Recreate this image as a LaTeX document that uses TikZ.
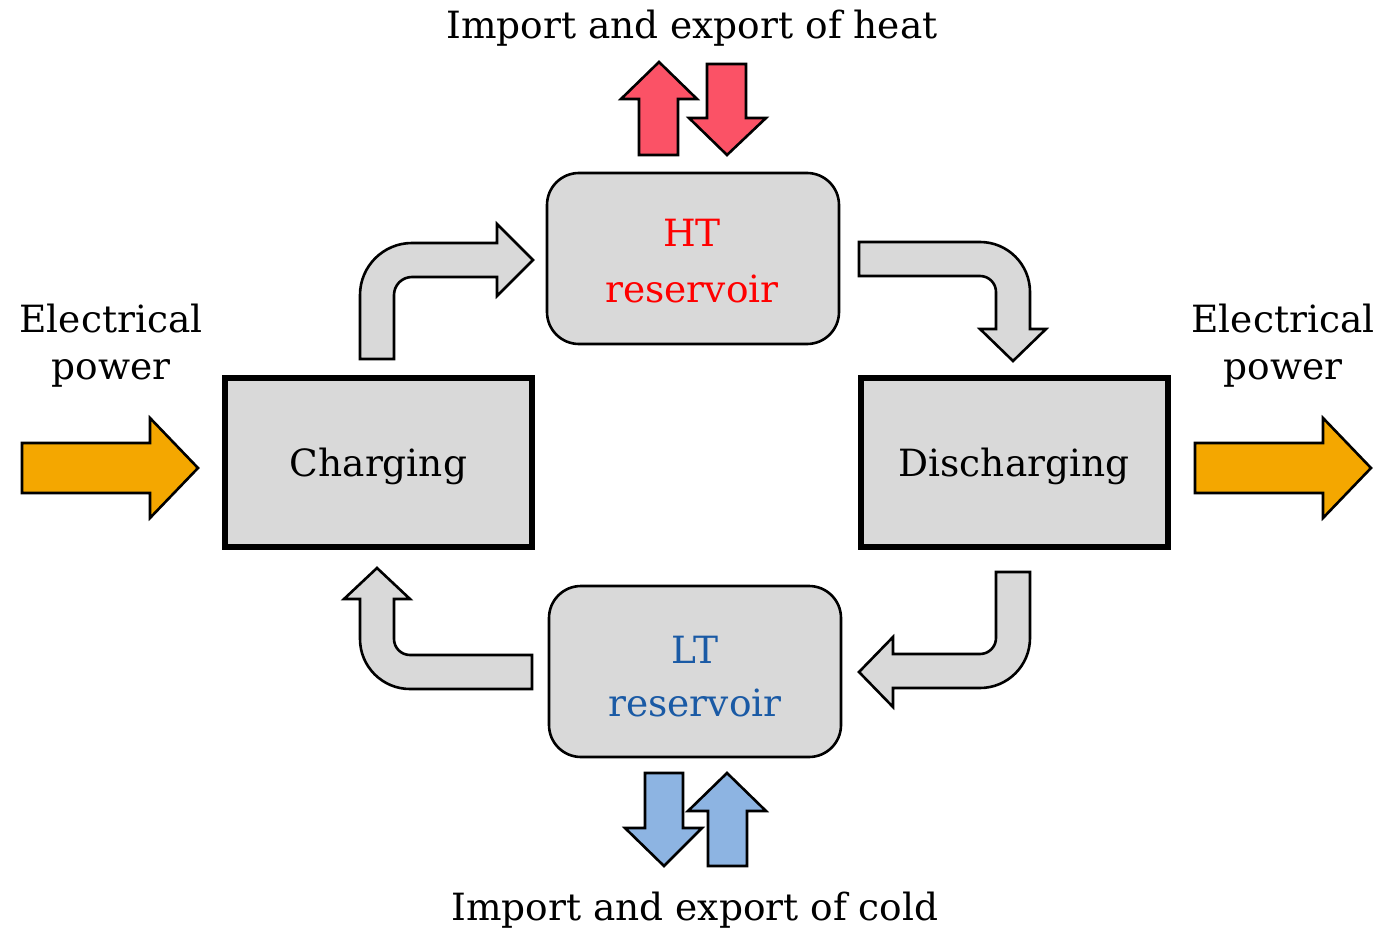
\documentclass[tikz,border=0pt]{standalone}
\usepackage{fontspec}
\setmainfont{DejaVu Serif}
\definecolor{boxgray}{HTML}{D9D9D9}
\definecolor{powerorange}{HTML}{F4A700}
\definecolor{heatred}{HTML}{FB5266}
\definecolor{coldblue}{HTML}{8DB4E2}
\definecolor{ltblue}{HTML}{1A5AA5}
\definecolor{htred}{HTML}{FF0000}
\begin{document}
\begin{tikzpicture}[x=1pt,y=1pt,
  blockarrow/.style={draw=black,line width=2.6pt,line join=miter},
  flowarrow/.style={blockarrow,fill=boxgray},
  mainbox/.style={draw=black,fill=boxgray,line width=6pt,minimum width=307pt,minimum height=169pt,inner sep=0pt,font=\fontsize{37.5}{44}\selectfont},
  reservoir/.style={draw=black,fill=boxgray,line width=2.6pt,rounded corners=32pt,minimum width=292pt,minimum height=171pt,inner sep=0pt},
  boxtext/.style={inner sep=0pt,anchor=base,font=\fontsize{37.5}{44}\selectfont},
  label/.style={inner sep=0pt,align=center,font=\fontsize{37.5}{47}\selectfont}]
\useasboundingbox (0,0) rectangle (1397,-928);

% boxes
\node[mainbox] (charging) at (378.5,-462.5) {\raisebox{-13.5pt}[0pt][0pt]{Charging}};
\node[mainbox] (discharging) at (1014,-462.5) {\raisebox{-13.5pt}[0pt][0pt]{Discharging}};
\node[reservoir] (ht) at (693,-258.5) {};
\node[reservoir] (lt) at (695,-671.5) {};
\node[boxtext,text=htred] (htname) at (692,-247) {HT};
\node[boxtext,text=htred] (htres) at (692,-302) {reservoir};
\node[boxtext,text=ltblue] (ltname) at (695,-663) {LT};
\node[boxtext,text=ltblue] (ltres) at (695,-716) {reservoir};

% labels
\node[label,anchor=base] (heatlabel) at (692,-39) {Import and export of heat};
\node[label,anchor=base] (coldlabel) at (695,-920) {Import and export of cold};
\node[label] (elecin) at (111,-346) {Electrical\\power};
\node[label] (elecout) at (1283,-346) {Electrical\\power};

% electrical power arrows
\draw[blockarrow,fill=powerorange] (22,-443) -- (150,-443) -- (150,-418) -- (198,-468) -- (150,-518) -- (150,-493) -- (22,-493) -- cycle;
\draw[blockarrow,fill=powerorange] (1195,-443) -- (1323,-443) -- (1323,-418) -- (1371,-468) -- (1323,-518) -- (1323,-493) -- (1195,-493) -- cycle;

% heat arrows
\draw[blockarrow,fill=heatred] (639,-155) -- (639,-99) -- (621,-99) -- (659,-62) -- (697,-99) -- (678,-99) -- (678,-155) -- cycle;
\draw[blockarrow,fill=heatred] (707,-64) -- (746,-64) -- (746,-118) -- (766,-118) -- (727,-155) -- (689,-118) -- (707,-118) -- cycle;

% cold arrows
\draw[blockarrow,fill=coldblue] (645,-773) -- (683,-773) -- (683,-828) -- (702,-828) -- (664,-866) -- (625,-828) -- (645,-828) -- cycle;
\draw[blockarrow,fill=coldblue] (708,-866) -- (708,-811) -- (688,-811) -- (727,-773) -- (766,-811) -- (747,-811) -- (747,-866) -- cycle;

% cycle arrows
\draw[flowarrow] (360,-359) -- (360,-295) arc[start angle=180,end angle=90,radius=52] -- (497,-243) -- (497,-224) -- (533,-260) -- (497,-296) -- (497,-277) -- (412,-277) arc[start angle=90,end angle=180,radius=18] -- (394,-359) -- cycle;
\draw[flowarrow] (859,-242) -- (980,-242) arc[start angle=90,end angle=0,radius=50] -- (1030,-329) -- (1046,-329) -- (1013,-361) -- (980,-329) -- (996,-329) -- (996,-292) arc[start angle=0,end angle=90,radius=16] -- (859,-276) -- cycle;
\draw[flowarrow] (1030,-572) -- (1030,-638) arc[start angle=0,end angle=-90,radius=50] -- (893,-688) -- (893,-707) -- (859,-672) -- (893,-637) -- (893,-654) -- (980,-654) arc[start angle=-90,end angle=0,radius=16] -- (996,-572) -- cycle;
\draw[flowarrow] (532,-689) -- (410,-689) arc[start angle=270,end angle=180,radius=50] -- (360,-599) -- (344,-599) -- (377,-568) -- (410,-599) -- (394,-599) -- (394,-639) arc[start angle=180,end angle=270,radius=16] -- (532,-655) -- cycle;
\end{tikzpicture}
\end{document}
